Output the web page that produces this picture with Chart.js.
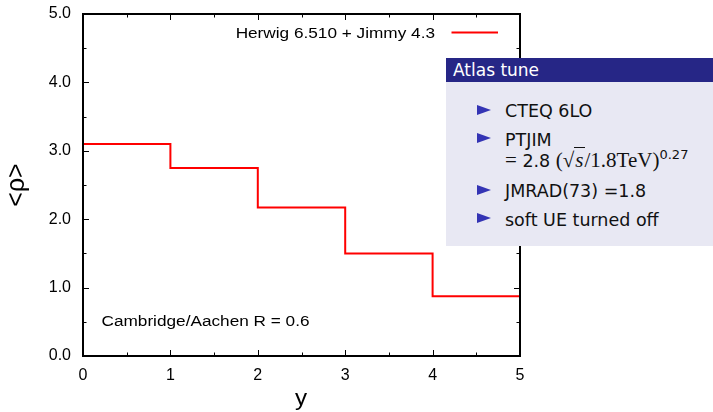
<!DOCTYPE html>
<html><head><meta charset="utf-8">
<script src="https://cdn.jsdelivr.net/npm/chart.js@4.4.0/dist/chart.umd.min.js"></script>
<style>
html,body{margin:0;padding:0;background:#fff;width:713px;height:412px;overflow:hidden;}
#wrap{position:relative;width:713px;height:412px;}
canvas{position:absolute;left:0;top:0;}
#box{position:absolute;left:446px;top:58px;width:267px;height:188px;background:#e8e8f3;font-family:"DejaVu Sans",sans-serif;color:#111;}
#hdr{position:absolute;left:0;top:0;width:100%;height:24px;background:#262686;color:#fff;font-size:17px;line-height:24px;padding-left:7px;box-sizing:border-box;white-space:nowrap;}
.item{position:absolute;left:59px;font-size:17.5px;line-height:20px;height:20px;white-space:nowrap;}
.tri{position:absolute;left:31px;width:0;height:0;border-left:14px solid #3434b4;border-top:5px solid transparent;border-bottom:5px solid transparent;}
.m{font-family:"Liberation Serif",serif;font-size:21px;}
.s{font-style:italic;border-top:1px solid #111;padding:0 1px;}
sup{font-size:13px;vertical-align:8px;line-height:0;}
</style>
</head><body>
<div id="wrap">
<canvas id="c" width="713" height="412"></canvas>
<div id="box">
  <div id="hdr">Atlas tune</div>
  <div class="tri" style="top:46.5px"></div>
  <div class="item" style="top:43px">CTEQ 6LO</div>
  <div class="tri" style="top:75px"></div>
  <div class="item" style="top:72px">PTJIM</div>
  <div class="item" style="top:92px"><span class="m">=</span> 2.8 <span class="m">(√<span class="s">s</span>/1.8TeV)</span><sup>0.27</sup></div>
  <div class="tri" style="top:126.5px"></div>
  <div class="item" style="top:123px">JMRAD(73) =1.8</div>
  <div class="tri" style="top:155px"></div>
  <div class="item" style="top:152px">soft UE turned off</div>
</div>
</div>
<script>
const binEdges = [0, 1, 2, 3, 4, 5];
const rhoValues = [3.10, 2.75, 2.17, 1.50, 0.875];
const xTickLabels = ['0', '1', '2', '3', '4', '5'];
const yTickLabels = ['0.0', '1.0', '2.0', '3.0', '4.0', '5.0'];
const seriesName = 'Herwig 6.510 + Jimmy 4.3';
const jetLabel = 'Cambridge/Aachen R = 0.6';

const stepPoints = binEdges.map((e, i) => ({ x: e, y: rhoValues[Math.min(i, rhoValues.length - 1)] }));

function stretchText(ctx, text, x, y, sx, align) {
  ctx.save();
  ctx.translate(x, y);
  ctx.scale(sx, 1);
  ctx.textAlign = align;
  ctx.fillText(text, 0, 0);
  ctx.restore();
}

const framePlugin = {
  id: 'frame',
  afterDatasetsDraw(chart) {
    const { ctx, chartArea: a, scales: { x, y } } = chart;
    ctx.save();
    ctx.strokeStyle = '#000';
    ctx.lineWidth = 1;
    const seg = (x1, y1, x2, y2) => { ctx.beginPath(); ctx.moveTo(x1, y1); ctx.lineTo(x2, y2); ctx.stroke(); };
    for (let v = 0; v <= 5.001; v += 0.5) {
      const len = Math.abs(v - Math.round(v)) < 1e-6 ? 6 : 3.5;
      const px = Math.round(x.getPixelForValue(v)) + 0.5;
      seg(px, a.bottom, px, a.bottom - len);
      seg(px, a.top, px, a.top + len);
      const py = Math.round(y.getPixelForValue(v)) + 0.5;
      seg(a.left, py, a.left + len, py);
      seg(a.right, py, a.right - len, py);
    }
    ctx.lineWidth = 2;
    ctx.strokeRect(a.left, a.top, a.right - a.left, a.bottom - a.top);

    ctx.fillStyle = '#000';
    ctx.textBaseline = 'alphabetic';
    ctx.font = '15.5px "Liberation Sans", Arial, sans-serif';
    stretchText(ctx, seriesName, 435, 38, 1.11, 'right');
    stretchText(ctx, jetLabel, 101.5, 326, 1.11, 'left');
    ctx.strokeStyle = '#ff0000';
    ctx.lineWidth = 2;
    seg(451.5, 32.5, 498, 32.5);

    ctx.font = '22px "Liberation Sans", Arial, sans-serif';
    stretchText(ctx, 'y', 301, 405, 1.1, 'center');

    ctx.save();
    ctx.translate(24, 185);
    ctx.rotate(-Math.PI / 2);
    ctx.font = '25px "Liberation Sans", Arial, sans-serif';
    ctx.textAlign = 'center';
    ctx.fillText('<ρ>', 0, 0);
    ctx.restore();
    ctx.restore();
  }
};

new Chart(document.getElementById('c'), {
  type: 'line',
  data: {
    datasets: [{
      label: seriesName,
      data: stepPoints,
      stepped: 'before',
      borderColor: '#ff0000',
      borderWidth: 2,
      pointRadius: 0,
      fill: false
    }]
  },
  options: {
    responsive: false,
    animation: false,
    devicePixelRatio: 1,
    layout: { padding: { top: 14, right: 193, left: 0, bottom: 0 } },
    plugins: { legend: { display: false }, tooltip: { enabled: false } },
    scales: {
      x: {
        type: 'linear', min: 0, max: 5,
        grid: { display: false }, border: { display: false },
        ticks: { stepSize: 1, padding: 2, color: '#000', font: { family: '"Liberation Sans", Arial, sans-serif', size: 16 },
          callback: (v) => xTickLabels[v] },
        afterFit: (s) => { s.height = 56; }
      },
      y: {
        type: 'linear', min: 0, max: 5,
        grid: { display: false }, border: { display: false },
        ticks: { stepSize: 1, padding: 4, color: '#000', font: { family: '"Liberation Sans", Arial, sans-serif', size: 16 },
          callback: (v) => yTickLabels[v] },
        afterFit: (s) => { s.width = 83; }
      }
    }
  },
  plugins: [framePlugin]
});
</script>
</body></html>
